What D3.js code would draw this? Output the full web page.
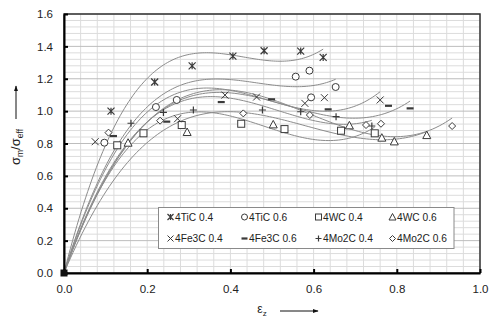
<!DOCTYPE html>
<html>
<head>
<meta charset="utf-8">
<script src="https://cdn.jsdelivr.net/npm/d3@7"></script>
<style>
  body { margin: 0; background: #fff; }
  svg { font-family: "Liberation Sans", Arial, sans-serif; }
</style>
</head>
<body>
<svg id="chart" width="497" height="322"></svg>
<script>
// series names and marker shapes (legend order)
const seriesNames = ["4TiC 0.4", "4TiC 0.6", "4WC 0.4", "4WC 0.6",
    "4Fe3C 0.4", "4Fe3C 0.6", "4Mo2C 0.4", "4Mo2C 0.6"];
const seriesShapes = ["star", "circle", "square", "triangle",
    "cross", "dash", "plus", "diamond"];

// strain values per series (every series starts at the origin)
const tic04X = [0, 0.113, 0.218, 0.308, 0.406, 0.481, 0.569, 0.623];
const tic04Y = [0, 1.00, 1.18, 1.28, 1.34, 1.373, 1.371, 1.332];
const tic06X = [0, 0.097, 0.221, 0.271, 0.557, 0.590, 0.594, 0.653];
const tic06Y = [0, 0.805, 1.025, 1.069, 1.213, 1.25, 1.085, 1.149];
const wc04X = [0, 0.128, 0.191, 0.283, 0.426, 0.530, 0.666, 0.747];
const wc04Y = [0, 0.789, 0.863, 0.914, 0.922, 0.889, 0.879, 0.863];
const wc06X = [0, 0.154, 0.296, 0.503, 0.686, 0.764, 0.794, 0.872];
const wc06Y = [0, 0.805, 0.871, 0.918, 0.912, 0.836, 0.813, 0.852];
const fe04X = [0, 0.075, 0.273, 0.387, 0.463, 0.579, 0.626, 0.760];
const fe04Y = [0, 0.811, 0.953, 1.099, 1.087, 1.048, 1.083, 1.069];
const fe06X = [0, 0.119, 0.247, 0.378, 0.499, 0.635, 0.780, 0.832];
const fe06Y = [0, 0.846, 0.935, 1.056, 1.073, 1.011, 1.033, 1.017];
const mo04X = [0, 0.161, 0.239, 0.311, 0.477, 0.569, 0.654, 0.740];
const mo04Y = [0, 0.925, 0.992, 1.007, 1.007, 0.996, 0.966, 0.908];
const mo06X = [0, 0.107, 0.231, 0.431, 0.591, 0.726, 0.762, 0.933];
const mo06Y = [0, 0.867, 0.941, 0.986, 0.976, 0.914, 0.922, 0.908];

const xTicks = [0, 0.2, 0.4, 0.6, 0.8, 1.0];
const yTicks = [0, 0.2, 0.4, 0.6, 0.8, 1.0, 1.2, 1.4, 1.6];

const seriesX = [tic04X, tic06X, wc04X, wc06X, fe04X, fe06X, mo04X, mo06X];
const seriesY = [tic04Y, tic06Y, wc04Y, wc06Y, fe04Y, fe06Y, mo04Y, mo06Y];
const series = seriesNames.map((name, i) => ({
    name,
    shape: seriesShapes[i],
    points: seriesX[i].map((x, j) => ({ x, y: seriesY[i][j] }))
}));

const svg = d3.select("#chart");
const x = d3.scaleLinear().domain([0, 1]).range([64, 480]);
const y = d3.scaleLinear().domain([0, 1.6]).range([273, 14]);

// grid
const minor = d3.range(0, 1.0001, 0.04);
const minorY = d3.range(0, 1.6001, 0.04);
const grid = svg.append("g");
grid.selectAll(".vx").data(minor).enter().append("line")
    .attr("x1", d => x(d)).attr("x2", d => x(d))
    .attr("y1", y(0)).attr("y2", y(1.6))
    .attr("stroke", "#dcdcdc").attr("stroke-width", 1);
grid.selectAll(".hy").data(minorY).enter().append("line")
    .attr("y1", d => y(d)).attr("y2", d => y(d))
    .attr("x1", x(0)).attr("x2", x(1))
    .attr("stroke", d => Math.abs(d * 5 - Math.round(d * 5)) < 1e-6 ? "#bdbdbd" : "#dcdcdc")
    .attr("stroke-width", 1);

// plot frame
svg.append("rect")
    .attr("x", x(0)).attr("y", y(1.6))
    .attr("width", x(1) - x(0)).attr("height", y(0) - y(1.6))
    .attr("fill", "none").attr("stroke", "#333").attr("stroke-width", 1.5);

// cubic trendline through the origin: y = a x + b x^2 + c x^3
function fitCubic(pts) {
    const A = [[0, 0, 0], [0, 0, 0], [0, 0, 0]];
    const b = [0, 0, 0];
    pts.forEach(p => {
        const v = [p.x, p.x * p.x, p.x * p.x * p.x];
        for (let r = 0; r < 3; r++) {
            b[r] += v[r] * p.y;
            for (let c = 0; c < 3; c++) A[r][c] += v[r] * v[c];
        }
    });
    for (let k = 0; k < 3; k++) {
        for (let r = k + 1; r < 3; r++) {
            const f = A[r][k] / A[k][k];
            for (let c = k; c < 3; c++) A[r][c] -= f * A[k][c];
            b[r] -= f * b[k];
        }
    }
    const s = [0, 0, 0];
    for (let r = 2; r >= 0; r--) {
        let acc = b[r];
        for (let c = r + 1; c < 3; c++) acc -= A[r][c] * s[c];
        s[r] = acc / A[r][r];
    }
    return t => s[0] * t + s[1] * t * t + s[2] * t * t * t;
}

const line = d3.line().x(d => x(d[0])).y(d => y(d[1])).curve(d3.curveLinear);
series.forEach(s => {
    const f = fitCubic(s.points);
    const xmax = d3.max(s.points, p => p.x);
    const samples = d3.range(0, 121).map(i => {
        const t = xmax * i / 120;
        return [t, f(t)];
    });
    svg.append("path")
        .attr("d", line(samples))
        .attr("fill", "none")
        .attr("stroke", "#8c8c8c")
        .attr("stroke-width", 1);
});

// axes
const xAxis = svg.append("g").attr("transform", `translate(0,${y(0)})`)
    .call(d3.axisBottom(x).tickValues(xTicks).tickFormat(d3.format(".1f"))
        .tickSizeInner(-4).tickSizeOuter(0).tickPadding(12));
const yAxis = svg.append("g").attr("transform", `translate(${x(0)},0)`)
    .call(d3.axisLeft(y).tickValues(yTicks).tickFormat(d3.format(".1f"))
        .tickSizeInner(-4).tickSizeOuter(0).tickPadding(11));
[xAxis, yAxis].forEach(g => {
    g.select(".domain").attr("stroke", "#000").attr("stroke-width", 2);
    g.selectAll(".tick line").attr("stroke", "#000").attr("stroke-width", 2);
    g.selectAll(".tick text").attr("font-size", 11.5).attr("fill", "#222")
        .attr("font-family", "Liberation Sans, Arial, sans-serif");
});

// markers
function marker(g, shape, cx, cy, r) {
    const st = "#3a3a3a";
    const add = (d, w) => g.append("path").attr("d", d).attr("fill", "none")
        .attr("stroke", st).attr("stroke-width", w || 1);
    switch (shape) {
        case "star":
            add(`M${cx - r},${cy - r}L${cx + r},${cy + r}M${cx - r},${cy + r}L${cx + r},${cy - r}M${cx},${cy - r}V${cy + r}`, 1.2);
            break;
        case "circle":
            g.append("circle").attr("cx", cx).attr("cy", cy).attr("r", r)
                .attr("fill", "#fff").attr("stroke", st);
            break;
        case "square":
            g.append("rect").attr("x", cx - r).attr("y", cy - r)
                .attr("width", 2 * r).attr("height", 2 * r)
                .attr("fill", "#fff").attr("stroke", st);
            break;
        case "triangle":
            g.append("path").attr("d", `M${cx},${cy - r - 0.5}L${cx + r + 0.5},${cy + r}L${cx - r - 0.5},${cy + r}Z`)
                .attr("fill", "#fff").attr("stroke", st);
            break;
        case "cross":
            add(`M${cx - r},${cy - r}L${cx + r},${cy + r}M${cx - r},${cy + r}L${cx + r},${cy - r}`);
            break;
        case "dash":
            add(`M${cx - r},${cy}H${cx + r}`, 2.2);
            break;
        case "plus":
            add(`M${cx - r},${cy}H${cx + r}M${cx},${cy - r}V${cy + r}`, 1.2);
            break;
        case "diamond":
            g.append("path").attr("d", `M${cx},${cy - r}L${cx + r},${cy}L${cx},${cy + r}L${cx - r},${cy}Z`)
                .attr("fill", "#fff").attr("stroke", st);
            break;
    }
}

const markG = svg.append("g");
series.forEach(s => {
    s.points.forEach(p => {
        if (p.x === 0 && p.y === 0) return;
        marker(markG, s.shape, x(p.x), y(p.y), 3.5);
    });
});
// overlapping markers at the origin
markG.append("rect").attr("x", x(0) - 3.5).attr("y", y(0) - 3.5)
    .attr("width", 7).attr("height", 7).attr("fill", "#111");

// legend
const legend = svg.append("g");
legend.append("rect").attr("x", 158.5).attr("y", 207.5)
    .attr("width", 295.5).attr("height", 41)
    .attr("fill", "#fff").attr("stroke", "#8a8a8a");
const colX = [170.5, 244.5, 318.5, 392.5];
const rowY = [217, 238.5];
series.forEach((s, i) => {
    const cx = colX[i % 4], cy = rowY[Math.floor(i / 4)];
    marker(legend, s.shape, cx, cy, 3);
    legend.append("text").attr("x", cx + 4.5).attr("y", cy).attr("dy", "0.35em")
        .attr("font-size", 10.2).attr("fill", "#222").text(s.name);
});

// axis titles
const defs = svg.append("defs");
defs.append("marker").attr("id", "arr").attr("viewBox", "0 0 10 10")
    .attr("refX", 9).attr("refY", 5).attr("markerWidth", 6).attr("markerHeight", 6)
    .attr("orient", "auto")
    .append("path").attr("d", "M0,1.5L10,5L0,8.5Z").attr("fill", "#111");

const xt = svg.append("text").attr("x", 262).attr("y", 313)
    .attr("font-size", 12).attr("fill", "#222").attr("text-anchor", "middle");
xt.append("tspan").text("ε");
xt.append("tspan").attr("font-size", 8).attr("dy", 3).text("z");
svg.append("line").attr("x1", 280).attr("x2", 318).attr("y1", 311).attr("y2", 311)
    .attr("stroke", "#111").attr("stroke-width", 1).attr("marker-end", "url(#arr)");

const yt = svg.append("text").attr("transform", "translate(20,147) rotate(-90)")
    .attr("font-size", 13).attr("fill", "#222").attr("text-anchor", "middle");
yt.append("tspan").text("σ");
yt.append("tspan").attr("font-size", 8.5).attr("dy", 3).text("m");
yt.append("tspan").attr("dy", -3).text("/σ");
yt.append("tspan").attr("font-size", 8.5).attr("dy", 3).text("eff");
svg.append("line").attr("x1", 16).attr("x2", 16).attr("y1", 119).attr("y2", 86)
    .attr("stroke", "#111").attr("stroke-width", 1).attr("marker-end", "url(#arr)");
</script>
</body>
</html>
